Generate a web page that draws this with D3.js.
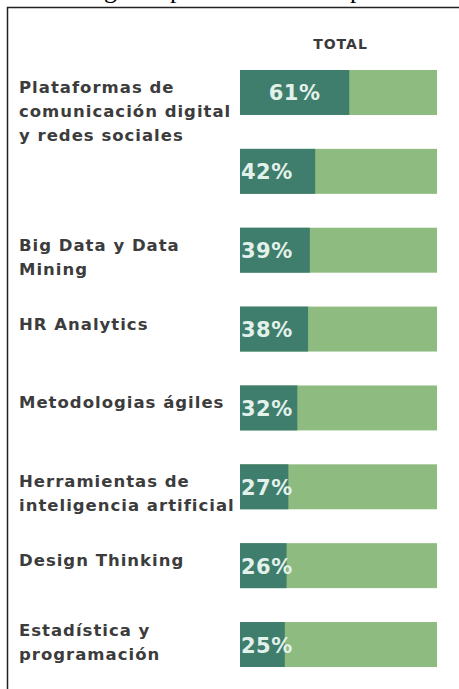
<!DOCTYPE html>
<meta charset="utf-8">
<head>
<style>
body { margin: 0; background: #fff; }
.lbl { font-family: "DejaVu Sans", sans-serif; font-weight: 600; font-size: 16.5px; letter-spacing: 1px; fill: #3c3c3c; }
.pct { font-family: "DejaVu Sans", sans-serif; font-weight: bold; font-size: 21px; letter-spacing: 0.5px; fill: #e2f1ea; }
.hdr { font-family: "DejaVu Sans", sans-serif; font-weight: bold; font-size: 14px; letter-spacing: 1px; fill: #3a3a3a; }
</style>
<script src="https://d3js.org/d3.v7.min.js"></script>
</head>
<body>
<svg id="plot" width="459" height="689"></svg>
<script>

// data
var labels = [
  ["Plataformas de", "comunicación digital", "y redes sociales"],
  [],
  ["Big Data y Data", "Mining"],
  ["HR Analytics"],
  ["Metodologias ágiles"],
  ["Herramientas de", "inteligencia artificial"],
  ["Design Thinking"],
  ["Estadística y", "programación"]
];
var values = [61, 42, 39, 38, 32, 27, 26, 25];
var header = "TOTAL";

var data = values.map(function(v, i){ return {i: i, value: v, lines: labels[i]}; });

var svg = d3.select("#plot");

// cut off caption fragments above the frame
var capFrag = svg.append("g").style("font-family", "'Liberation Serif', serif").style("font-size", "26px").attr("fill", "#000");
capFrag.append("text").attr("x", 104).attr("y", -2).text("g");
capFrag.append("text").attr("x", 170).attr("y", -2).text("p");
capFrag.append("text").attr("x", 350).attr("y", -2).text("p");

// frame
svg.append("path")
    .attr("d", "M7.5,689V7.5H459")
    .attr("fill", "none")
    .attr("stroke", "#222")
    .attr("stroke-width", 1.5);

var x = d3.scaleLinear()
    .domain([0, 110])
    .range([240, 437]);

var y = d3.scaleBand()
    .domain(d3.range(values.length))
    .range([70, 667])
    .paddingInner(0.43)
    .paddingOuter(0);

svg.append("text")
    .attr("class", "hdr")
    .attr("x", (x.range()[0] + x.range()[1]) / 2 + 2)
    .attr("y", 49)
    .attr("text-anchor", "middle")
    .text(header);

var row = svg.selectAll(".row").data(data)
  .enter().append("g").attr("class", "row");

row.append("rect")
    .attr("x", x(0))
    .attr("y", function(d){ return y(d.i); })
    .attr("width", x(110) - x(0))
    .attr("height", y.bandwidth())
    .attr("fill", "#8dbb80");

row.append("rect")
    .attr("x", x(0))
    .attr("y", function(d){ return y(d.i); })
    .attr("width", function(d){ return x(d.value) - x(0); })
    .attr("height", y.bandwidth())
    .attr("fill", "#3f7d6d");

row.append("text")
    .attr("class", "pct")
    .attr("x", function(d){
      var w = x(d.value) - x(0);
      return w > 100 ? x(0) + w / 2 : x(0) + 1;
    })
    .attr("text-anchor", function(d){ return (x(d.value) - x(0)) > 100 ? "middle" : "start"; })
    .attr("y", function(d){ return y(d.i) + y.bandwidth() / 2 + 8; })
    .text(function(d){ return d.value + "%"; });

row.append("text")
    .attr("class", "lbl")
    .attr("x", 19)
    .attr("y", function(d){ return y(d.i) + (d.i === 7 ? 14 : 23); })
    .selectAll("tspan").data(function(d){ return d.lines; })
  .enter().append("tspan")
    .attr("x", 19)
    .attr("dy", function(d, j){ return j === 0 ? 0 : 24; })
    .text(function(d){ return d; });

</script>
</body>
